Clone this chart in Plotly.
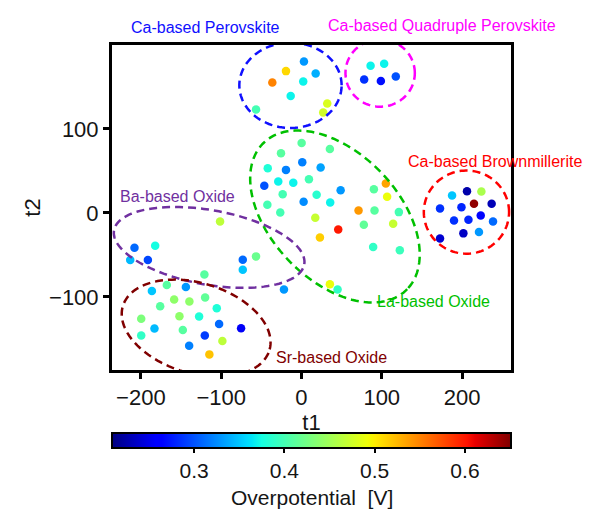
import numpy as np
import plotly.graph_objects as go

# ---- data (t-SNE coordinates and overpotential) ----
t1 = [3.1, -19.3, -36.3, 2.2, -13.4, -56.6, 17.7, 32.1, 27.1,
      86.1, 103.0, 78.1, 98.9, 117.5,
      0.2, 35.4, -25.5, 1.0, -42.0, -19.3, 23.9, 9.3, -46.3, -28.9, -10.2, -23.4, 18.9, 48.8,
      90.2, 105.1, 106.7, -42.5, 2.7, 35.8, -26.4, 17.2, 71.1, 91.0, 121.3, 45.8, 77.7, 114.2,
      23.0, 89.3, 122.5, 35.4, 45.0, -56.6, -21.8,
      187.6, 206.2, 224.1, 172.6, 199.3, 214.9, 236.9, 190.0, 208.0, 223.3, 238.6, 201.7, 221.1, 172.6,
      -101.4, -208.0, -182.2, -213.3, -191.3, -73.1, -73.1,
      -120.9, -167.7, -144.0, -186.3, -158.6, -139.6, -120.0, -176.0, -105.5, -152.0, -127.5,
      -199.6, -183.1, -147.8, -102.6, -75.2, -199.6, -120.4, -98.5, -139.9, -114.7]
t2 = [180.3, 168.9, 155.3, 156.5, 139.2, 123.3, 166.0, 130.4, 119.7,
      175.2, 177.6, 158.9, 157.0, 162.5,
      83.4, 76.2, 71.0, 60.3, 53.2, 51.3, 54.0, 40.1, 32.3, 37.4, 35.9, 22.3, 21.6, 27.1,
      28.3, 35.0, 19.2, 9.7, 13.3, 12.5, 0.6, -5.7, 3.0, 3.0, 1.0, -19.6, -14.0, -12.8,
      -29.1, -40.6, -44.5, -84.9, -91.2, -51.7, -91.2,
      20.8, 25.9, 25.5, 5.3, 6.9, 10.9, 10.9, -8.9, -8.1, -3.0, -10.1, -24.3, -22.8, -30.3,
      -10.1, -41.3, -39.0, -56.1, -56.1, -55.6, -67.5,
      -73.4, -85.7, -88.1, -92.9, -103.1, -105.5, -100.7, -111.0, -113.4, -122.9, -123.3,
      -126.1, -137.5, -139.5, -132.1, -137.2, -145.9, -145.9, -152.6, -158.2, -168.4]
overpotential = [0.33, 0.51, 0.55, 0.37, 0.37, 0.40, 0.34, 0.48, 0.475,
                 0.37, 0.37, 0.285, 0.27, 0.30,
                 0.41, 0.41, 0.41, 0.32, 0.38, 0.32, 0.335, 0.40, 0.30, 0.37, 0.37, 0.40, 0.385, 0.33,
                 0.41, 0.535, 0.49, 0.40, 0.325, 0.37, 0.40, 0.47, 0.54, 0.41, 0.40, 0.60, 0.415, 0.47,
                 0.515, 0.39, 0.395, 0.49, 0.39, 0.42, 0.33,
                 0.35, 0.225, 0.455, 0.285, 0.28, 0.645, 0.23, 0.285, 0.28, 0.265, 0.31, 0.235, 0.33, 0.24,
                 0.465, 0.31, 0.375, 0.345, 0.295, 0.31, 0.35,
                 0.41, 0.41, 0.33, 0.35, 0.44, 0.44, 0.415, 0.41, 0.38, 0.44, 0.38,
                 0.43, 0.345, 0.41, 0.31, 0.255, 0.39, 0.29, 0.465, 0.32, 0.52]

x_ticks = [-200, -100, 0, 100, 200]
y_ticks = [-100, 0, 100]
cbar_ticks = [0.3, 0.4, 0.5, 0.6]

# group labels / ellipses: (label, color, cx, cy, a, b, angle, label_x, label_y_paper)
groups = [
    ("Ca-based Perovskite", "#1010FF", -13.7, 152.0, 63.7, 50.8, 0, -120, 1.054),
    ("Ca-based Quadruple Perovskite", "#FF00FF", 98.0, 166.6, 43.2, 40.1, 0, 175, 1.061),
    ("Ca-based Brownmillerite", "#FF0000", 205.5, 1.0, 53.1, 49.5, 0, 241.5, 0.641),
    ("La-based Oxide", "#00C000", 41.7, -4.2, 124.9, 77.7, -43, 164.6, 0.210),
    ("Ba-based Oxide", "#7030A0", -115.0, -41.0, 120.2, 44.4, -9.6, -154.9, 0.535),
    ("Sr-based Oxide", "#800000", -131.2, -137.2, 95.0, 54.0, -15.4, 37.3, 0.040),
]

# matplotlib 'jet'
def mpl_jet():
    r = [(0, 0), (0.35, 0), (0.66, 1), (0.89, 1), (1, 0.5)]
    g = [(0, 0), (0.125, 0), (0.375, 1), (0.64, 1), (0.91, 0), (1, 0)]
    b = [(0, 0.5), (0.11, 1), (0.34, 1), (0.65, 0), (1, 0)]
    stops = sorted(set([p for p, _ in r + g + b]))
    def interp(seg, s):
        xs = [p for p, _ in seg]; ys = [v for _, v in seg]
        return float(np.interp(s, xs, ys))
    out = []
    for s in stops:
        out.append([s, "rgb(%d,%d,%d)" % (round(255 * interp(r, s)), round(255 * interp(g, s)), round(255 * interp(b, s)))])
    return out

FONT = "Liberation Sans, Arial, sans-serif"
TXT = "#151515"

fig = go.Figure()
fig.add_trace(go.Scatter(
    x=t1, y=t2, mode="markers",
    marker=dict(size=8.5, color=overpotential, colorscale=mpl_jet(), cmin=0.209, cmax=0.651,
                line=dict(width=0),
                colorbar=dict(orientation="h", x=0.5, xanchor="center", y=-0.194, yanchor="top",
                              len=1.0, lenmode="fraction", thickness=15, xpad=0, ypad=0,
                              outlinewidth=2, outlinecolor="black",
                              tickvals=cbar_ticks, ticktext=[str(v) for v in cbar_ticks],
                              ticks="outside", ticklen=4, tickwidth=2, tickcolor="black",
                              tickfont=dict(size=21, color=TXT, family=FONT))),
    showlegend=False, hoverinfo="skip"))

shapes = []
annotations = []
for label, col, cx, cy, a, b, ang, lx, ly in groups:
    tt = np.linspace(0, 2 * np.pi, 120)
    th = np.deg2rad(ang)
    ex = cx + a * np.cos(tt) * np.cos(th) - b * np.sin(tt) * np.sin(th)
    ey = cy + a * np.cos(tt) * np.sin(th) + b * np.sin(tt) * np.cos(th)
    path = "M " + " L ".join("%.2f,%.2f" % (px, py) for px, py in zip(ex, ey)) + " Z"
    shapes.append(dict(type="path", path=path, xref="x", yref="y",
                       line=dict(color=col, width=2.5, dash="8px,5px"), layer="above"))
    annotations.append(dict(x=lx, y=ly, xref="x", yref="paper", text=label, showarrow=False,
                            font=dict(size=16, color=col, family=FONT),
                            xanchor="center", yanchor="middle"))

# colorbar title
annotations.append(dict(x=0.5, y=-0.391, xref="paper", yref="paper", text="Overpotential  [V]",
                        showarrow=False, xanchor="center", yanchor="middle",
                        font=dict(size=21, color=TXT, family=FONT)))

fig.update_layout(
    width=590, height=510,
    margin=dict(l=112, r=79, t=45, b=140, autoexpand=False),
    paper_bgcolor="white", plot_bgcolor="white",
    font=dict(family=FONT, size=22, color=TXT),
    shapes=shapes, annotations=annotations,
    xaxis=dict(range=[-236, 261], tickvals=x_ticks, showgrid=False, zeroline=False,
               showline=True, linecolor="black", linewidth=3, mirror=True,
               ticks="outside", ticklen=6, tickwidth=2.5, tickcolor="black",
               tickfont=dict(size=22, family=FONT, color=TXT),
               title=dict(text="t1", standoff=2, font=dict(size=22, family=FONT, color=TXT))),
    yaxis=dict(range=[-187, 200], tickvals=y_ticks, showgrid=False, zeroline=False,
               showline=True, linecolor="black", linewidth=3, mirror=True,
               ticks="outside", ticklen=6, tickwidth=2.5, tickcolor="black",
               tickfont=dict(size=22, family=FONT, color=TXT),
               title=dict(text="t2", standoff=3, font=dict(size=22, family=FONT, color=TXT))),
)

fig.write_html("out.html")
